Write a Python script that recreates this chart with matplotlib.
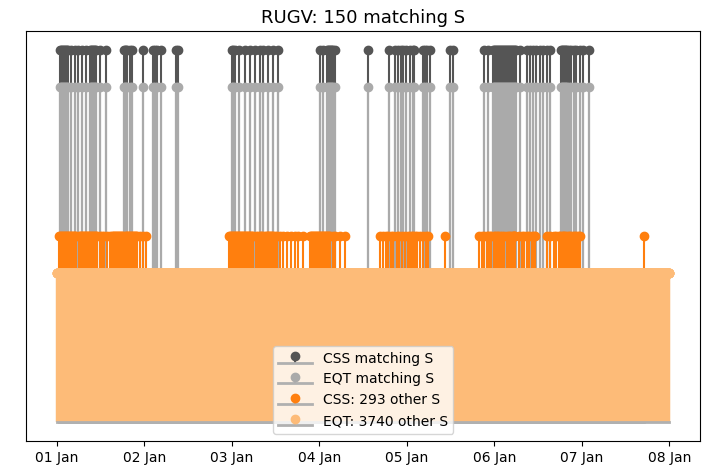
import numpy as np
import pandas as pd
import matplotlib
matplotlib.use("Agg")
import matplotlib.pyplot as plt
import matplotlib.dates as mdates

# ---- data: event times in hours since 01 Jan 00:00 ----
start = pd.Timestamp("2021-01-01 00:00")

matching_hours = [
    0.82, 1.10, 1.37, 1.65, 1.92, 2.20, 2.47, 2.75, 3.02, 3.84, 4.94, 5.85, 6.95, 8.15,
    9.06, 9.33, 9.61, 9.88, 10.16, 10.43, 10.71, 11.80, 13.64,
    18.39, 18.67, 18.94, 19.30, 20.04, 20.67, 23.69, 26.43, 26.90, 27.53, 28.47,
    32.58, 33.13,
    47.96, 48.32, 48.86, 50.04, 51.61, 52.98, 54.35, 55.73, 56.63, 58.00, 59.38, 60.58,
    72.19, 73.10, 74.03, 74.39, 74.66, 74.94, 75.21, 75.49, 75.84, 76.31,
    85.23,
    91.13, 92.78, 93.69, 94.35, 95.06, 95.80, 96.90, 97.81, 98.08, 100.55, 101.02, 101.48, 102.39,
    107.88, 108.62,
    117.21, 118.12,
    119.68, 119.96, 120.23, 120.51, 120.78, 121.06, 121.33, 121.61, 121.88, 122.16, 122.43, 122.70,
    122.98, 123.25, 123.53, 123.80, 124.08, 124.35, 124.63, 124.90, 125.18, 125.45, 125.73, 126.00,
    127.10, 128.94, 129.84, 130.58, 131.41, 132.59, 133.33, 134.43, 135.33,
    138.35, 138.63, 138.90, 139.18, 139.45, 139.72, 140.00,
    140.36, 141.01, 141.73, 142.47, 143.57, 144.39, 145.85,
]

css_other_hours = [
    0.55, 0.82, 1.10, 1.37, 1.65, 1.92, 2.20, 2.47, 2.75, 3.02, 3.29, 3.57, 3.84, 4.12, 4.39, 4.67, 4.94, 5.22,
    6.04, 6.31, 6.59, 6.86, 7.14, 7.41, 7.69, 7.96, 8.24, 8.51, 8.78, 9.06, 9.33, 9.61, 9.88, 10.16, 10.43, 10.71, 10.98,
    11.80, 12.35, 12.90, 13.73, 14.55,
    15.10, 15.37, 15.65, 15.92, 16.20, 16.47, 16.74, 17.02, 17.29, 17.57, 17.84, 18.12,
    18.67, 18.94, 19.22, 19.49, 19.76, 20.04, 20.31, 20.59, 20.86, 21.14, 21.41, 21.69, 21.96,
    22.78, 23.61, 24.43,
    47.21, 47.49, 47.76, 48.04, 48.31, 48.59, 48.86, 49.14, 49.41, 49.68, 49.96, 50.23, 50.51,
    50.78, 51.06, 51.33, 51.61, 51.88, 52.16, 52.43, 52.70, 52.98, 53.25, 53.53, 53.80,
    54.63, 55.17, 55.72, 56.00, 56.27, 56.82, 57.37, 57.65, 57.92, 58.20, 58.47, 58.74, 59.02, 59.29,
    59.84, 60.39, 61.21, 62.12, 63.05, 64.15, 65.33, 66.24, 67.61,
    69.45, 69.72, 70.00, 70.27, 70.55, 70.82, 71.10, 71.37, 71.65, 71.92, 72.19, 72.47, 72.74,
    73.02, 73.29, 73.57, 73.84, 74.12, 74.39, 74.66, 74.94, 75.68, 76.31, 77.68, 79.06,
    88.66, 89.57, 90.31, 90.94, 91.68, 92.32, 93.25, 93.96, 94.62, 95.53, 96.43, 96.90, 97.37,
    97.81, 98.27, 98.91, 99.64, 100.55, 101.29, 101.92,
    106.51,
    115.92, 116.58, 117.02, 117.96, 118.39, 118.72, 119.05, 119.77, 120.23, 120.64, 121.06, 121.41,
    122.07, 122.51, 123.44, 123.88, 124.16, 124.82, 125.04, 125.26, 125.50, 125.72, 126.63, 127.56,
    128.00, 128.94, 129.38, 130.31, 130.75, 131.21,
    134.43, 135.33, 136.23, 136.97, 137.61, 138.07, 138.54, 138.90, 139.18, 139.45, 139.92, 140.36,
    140.63, 141.29, 141.73, 142.20, 142.66, 143.10, 143.57,
    160.94,
]

# EQT other events fill the whole week densely (3740 events)
eqt_other_first = "2021-01-01 00:00"
eqt_other_last = "2021-01-08 00:00"
eqt_other_count = 3740

# stem heights per series
h_css_match = 2.5
h_eqt_match = 2.25
h_css_other = 1.25
h_eqt_other = 1.0

title = "RUGV: 150 matching S"
labels = ["CSS matching S", "EQT matching S", "CSS: 293 other S", "EQT: 3740 other S"]
colors = ["#555555", "#aaaaaa", "#ff7f0e", "#fdbb78"]

# ---- build times ----
match_t = start + pd.to_timedelta(matching_hours, unit="h")
css_other_t = start + pd.to_timedelta(css_other_hours, unit="h")
eqt_other_t = pd.date_range(eqt_other_first, eqt_other_last, periods=eqt_other_count)

series = [
    (match_t, h_css_match),
    (match_t, h_eqt_match),
    (css_other_t, h_css_other),
    (eqt_other_t, h_eqt_other),
]

fig = plt.figure(figsize=(7.05, 4.7), dpi=100)
ax = fig.add_axes([0.037, 0.062, 0.956, 0.872])

for (t, h), lab, c in zip(series, labels, colors):
    x = mdates.date2num(t.to_pydatetime())
    markerline, stemlines, baseline = ax.stem(x, np.full(len(x), h), label=lab)
    plt.setp(markerline, color=c, markersize=6)
    plt.setp(stemlines, color=c, linewidth=1.5)
    plt.setp(baseline, color="#b0b0b0", linewidth=2)

ax.xaxis.set_major_locator(mdates.DayLocator())
ax.xaxis.set_major_formatter(mdates.DateFormatter("%d %b"))
ax.set_yticks([])
ax.set_title(title, fontsize=13)
ax.legend(loc="lower center", handlelength=2.4)

fig.savefig("out.png", dpi=100)
